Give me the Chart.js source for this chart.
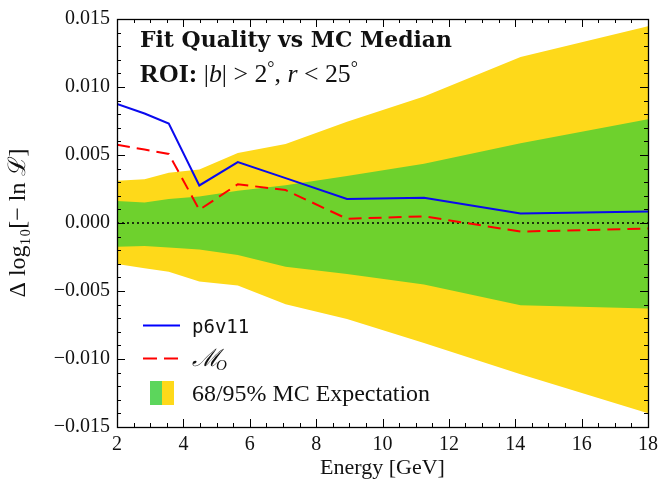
<!DOCTYPE html>
<html>
<head>
<meta charset="UTF-8">
<script src="https://cdn.jsdelivr.net/npm/chart.js"></script>
<style>
  body { margin: 0; background: #fff; }
  #c { display: block; }
</style>
</head>
<body>
<canvas id="c" width="670" height="485"></canvas>
<script>
// energy bins [GeV]
const energy = [2.0, 2.83, 3.56, 4.48, 5.64, 7.08, 8.93, 11.25, 14.16, 18.0];

// fit quality relative to MC median
const p6v11 = [0.00876, 0.00805, 0.00731, 0.00276, 0.00448, 0.00330, 0.00176, 0.00186, 0.00070, 0.00085];
const modelO = [0.00575, 0.00540, 0.00508, 0.00097, 0.00285, 0.00242, 0.00031, 0.00049, -0.00063, -0.00041];

// MC expectation bands
const band68Hi = [0.00162, 0.00150, 0.00176, 0.00194, 0.00237, 0.00278, 0.00346, 0.00435, 0.00586, 0.00762];
const band68Lo = [-0.00174, -0.00169, -0.00181, -0.00194, -0.00235, -0.00322, -0.00375, -0.00452, -0.00605, -0.00629];
const band95Hi = [0.00310, 0.00322, 0.00370, 0.00394, 0.00515, 0.00580, 0.00745, 0.00931, 0.01221, 0.01446];
const band95Lo = [-0.00302, -0.00332, -0.00358, -0.00430, -0.00460, -0.00597, -0.00706, -0.00883, -0.01113, -0.01398];

const yTicks = [-0.015, -0.010, -0.005, 0.000, 0.005, 0.010, 0.015];
const xTicks = [2, 4, 6, 8, 10, 12, 14, 16, 18];

const YELLOW = '#fed91a';
const GREEN = '#6ed12d';
const SERIF = '"Liberation Serif", "DejaVu Serif", serif';

const pts = arr => arr.map((v, i) => ({ x: energy[i], y: v }));

// inward ticks on all four sides, major + minor
const frameTicks = {
  id: 'frameTicks',
  afterDraw(chart) {
    const { ctx, chartArea: a, scales: { x, y } } = chart;
    ctx.save();
    ctx.strokeStyle = '#000';
    ctx.lineWidth = 1;
    ctx.beginPath();
    for (let i = 0; i <= 32; i++) {
      const v = 2 + i * 0.5;
      const px = Math.round(x.getPixelForValue(v)) + 0.5;
      const len = i % 4 === 0 ? 8 : 4;
      ctx.moveTo(px, a.bottom); ctx.lineTo(px, a.bottom - len);
      ctx.moveTo(px, a.top); ctx.lineTo(px, a.top + len);
    }
    for (let i = -15; i <= 15; i++) {
      const py = Math.round(y.getPixelForValue(i * 0.001)) + 0.5;
      const len = i % 5 === 0 ? 8 : 4;
      ctx.moveTo(a.left, py); ctx.lineTo(a.left + len, py);
      ctx.moveTo(a.right, py); ctx.lineTo(a.right - len, py);
    }
    ctx.stroke();
    ctx.lineWidth = 1.3;
    ctx.strokeRect(a.left + 0.5, a.top + 0.5, a.right - a.left, a.bottom - a.top);
    ctx.restore();
  }
};

// draws a run of [text, style, sizeFactor, dy] pieces scaled to fill a given width
function fitRun(ctx, pieces, x0, base, width, family) {
  const font = (p, s) => `${p[1]} ${(s * (p[2] || 1)).toFixed(2)}px ${family}`;
  let total = 0;
  pieces.forEach(p => { ctx.font = font(p, 20); total += ctx.measureText(p[0]).width; });
  const size = 20 * width / total;
  let cx = x0;
  pieces.forEach(p => {
    ctx.font = font(p, size);
    ctx.fillText(p[0], cx, base + (p[3] || 0));
    cx += ctx.measureText(p[0]).width;
  });
}

// title block and legend inside the plot
const annotations = {
  id: 'annotations',
  afterDraw(chart) {
    const { ctx } = chart;
    ctx.save();
    ctx.fillStyle = '#111';
    ctx.textBaseline = 'alphabetic';

    fitRun(ctx, [['Fit Quality vs MC Median', 'bold']], 140, 47, 312, '"DejaVu Serif", serif');
    fitRun(ctx, [
      ['ROI: ', 'bold'], ['|', 'normal'], ['b', 'italic'], ['| > 2', 'normal'],
      ['°', 'normal', 0.7, -8], [', ', 'normal'], ['r', 'italic'], [' < 25', 'normal'],
      ['°', 'normal', 0.7, -8]
    ], 140, 82, 218, SERIF);

    // legend
    ctx.lineWidth = 2;
    ctx.strokeStyle = '#0000ff';
    ctx.beginPath(); ctx.moveTo(143, 325.5); ctx.lineTo(180, 325.5); ctx.stroke();
    ctx.font = '19px "DejaVu Sans Mono", "Liberation Mono", monospace';
    ctx.fillText('p6v11', 192, 333);

    ctx.strokeStyle = '#ff0000';
    ctx.setLineDash([14, 7]);
    ctx.beginPath(); ctx.moveTo(143, 358.5); ctx.lineTo(180, 358.5); ctx.stroke();
    ctx.setLineDash([]);
    ctx.font = 'italic 24px ' + SERIF;
    ctx.fillText('ℳ', 192, 366);
    ctx.font = 'italic 15px ' + SERIF;
    ctx.fillText('O', 216, 370);

    ctx.fillStyle = '#5cd65c';
    ctx.fillRect(150, 381, 12, 24);
    ctx.fillStyle = YELLOW;
    ctx.fillRect(162, 381, 12, 24);
    ctx.fillStyle = '#111';
    fitRun(ctx, [['68/95% MC Expectation', 'normal']], 192, 401, 238, SERIF);
    ctx.restore();
  }
};

const fmtY = v => {
  const s = Math.abs(v).toFixed(3);
  return (v < -1e-9 ? '\u2212' : '') + s;
};

new Chart(document.getElementById('c'), {
  type: 'line',
  data: {
    datasets: [
      { data: pts(p6v11), borderColor: '#0a0aee', borderWidth: 2, pointRadius: 0, order: 0 },
      { data: pts(modelO), borderColor: '#ff0000', borderWidth: 2, borderDash: [13, 7], pointRadius: 0, order: 0 },
      { data: [{ x: 2, y: 0 }, { x: 18, y: 0 }], borderColor: '#000', borderWidth: 1.3, borderDash: [2, 3], pointRadius: 0, order: 0 },
      { data: pts(band68Hi), borderWidth: 0, pointRadius: 0, backgroundColor: GREEN, fill: '+1', order: 1 },
      { data: pts(band68Lo), borderWidth: 0, pointRadius: 0, backgroundColor: GREEN, fill: false, order: 1 },
      { data: pts(band95Hi), borderWidth: 0, pointRadius: 0, backgroundColor: YELLOW, fill: '+1', order: 2 },
      { data: pts(band95Lo), borderWidth: 0, pointRadius: 0, backgroundColor: YELLOW, fill: false, order: 2 }
    ]
  },
  options: {
    responsive: false,
    animation: false,
    layout: { padding: { top: 13, right: 22, left: 0, bottom: 0 } },
    plugins: { legend: { display: false }, tooltip: { enabled: false } },
    scales: {
      x: {
        type: 'linear', min: 2, max: 18,
        afterBuildTicks: s => { s.ticks = xTicks.map(v => ({ value: v })); },
        grid: { display: false, drawTicks: false },
        border: { display: false },
        ticks: { color: '#111', padding: 6, font: { family: SERIF, size: 20 }, maxRotation: 0 },
        title: { display: true, text: 'Energy [GeV]', color: '#111', font: { family: SERIF, size: 22 }, padding: { top: 0 } },
        afterFit: s => { s.height = 58; }
      },
      y: {
        min: -0.015, max: 0.015,
        afterBuildTicks: s => { s.ticks = yTicks.map(v => ({ value: v })); },
        grid: { display: false, drawTicks: false },
        border: { display: false },
        ticks: { color: '#111', padding: 7, font: { family: SERIF, size: 20 }, callback: fmtY },
        title: { display: true, text: 'Δ log\u2081\u2080[\u2212 ln ℒ]', color: '#111', font: { family: SERIF, size: 24 }, padding: { bottom: 4 } },
        afterFit: s => { s.width = 117; }
      }
    }
  },
  plugins: [frameTicks, annotations]
});
</script>
</body>
</html>
